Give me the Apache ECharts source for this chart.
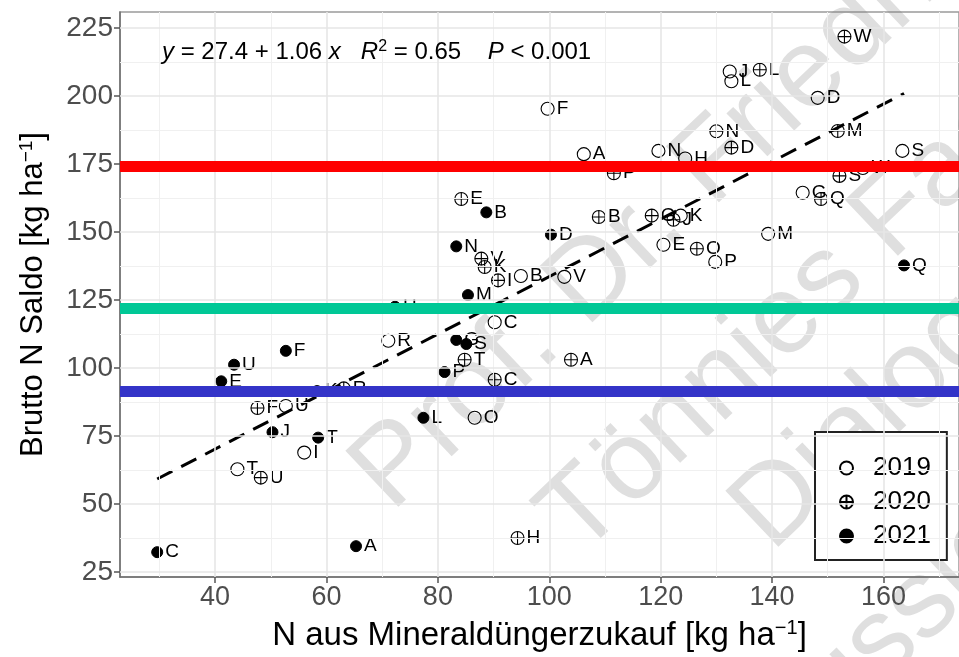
<!DOCTYPE html>
<html>
<head>
<meta charset="utf-8">
<script src="https://cdn.jsdelivr.net/npm/echarts@6/dist/echarts.min.js"></script>
<style>
html,body{margin:0;padding:0;background:#fff;}
#chart{width:959px;height:657px;}
</style>
</head>
<body>
<div id="chart"></div>
<script>
// ---- data ----
const years = ['2019', '2020', '2021'];
// [N aus Mineraldüngerzukauf, Brutto N Saldo, Betrieb]
const data2019 = [
  [99.7, 195.3, 'F'], [106.2, 178.6, 'A'], [119.6, 179.8, 'N'], [124.4, 177.0, 'H'],
  [132.4, 209.0, 'J'], [132.7, 205.4, 'L'], [148.2, 199.3, 'D'], [163.4, 179.8, 'S'],
  [156.3, 173.5, 'W'], [145.5, 164.4, 'G'], [120.5, 145.3, 'E'], [129.8, 139.0, 'P'],
  [139.3, 149.3, 'M'], [123.6, 156.0, 'K'], [94.9, 133.8, 'B'], [102.7, 133.5, 'V'],
  [90.2, 116.8, 'C'], [71.1, 110.0, 'R'], [52.7, 86.0, 'U'], [56.0, 68.9, 'I'],
  [44.0, 62.8, 'T'], [86.6, 81.7, 'O']
];
const data2020 = [
  [153.0, 221.8, 'W'], [137.8, 209.6, 'L'], [130.0, 187.0, 'N'], [132.7, 181.0, 'D'],
  [151.8, 187.1, 'M'], [152.1, 170.6, 'S'], [148.8, 162.1, 'Q'], [111.6, 171.6, 'P'],
  [84.2, 162.1, 'E'], [108.9, 155.5, 'B'], [118.4, 156.0, 'G'], [122.3, 154.5, 'J'],
  [126.5, 143.8, 'O'], [87.8, 140.2, 'V'], [88.4, 137.1, 'K'], [90.8, 132.2, 'I'],
  [84.8, 103.0, 'T'], [103.9, 103.0, 'A'], [90.2, 95.7, 'C'], [47.6, 85.3, 'F'],
  [48.2, 59.7, 'U'], [94.3, 37.5, 'H'], [63.1, 92.5, 'R']
];
const data2021 = [
  [88.7, 157.2, 'B'], [100.3, 149.0, 'D'], [83.3, 144.7, 'N'], [85.4, 126.8, 'M'],
  [72.3, 122.5, 'H'], [163.7, 137.7, 'Q'], [83.3, 110.3, 'G'], [85.1, 108.8, 'S'],
  [81.2, 98.5, 'P'], [52.7, 106.3, 'F'], [43.4, 101.2, 'U'], [41.1, 95.1, 'E'],
  [77.4, 81.7, 'L'], [50.3, 76.4, 'J'], [58.5, 74.4, 'T'], [58.3, 91.5, 'K'],
  [29.6, 32.3, 'C'], [65.3, 34.5, 'A']
];
// regression line end points
const fitX = [29.6, 163.7];
const fitY = [59.2, 200.9];
// horizontal reference lines
const refLevels = [174.0, 121.9, 91.4];
const refColors = ['#ff0000', '#00c896', '#3434c8'];
// axis ticks
const ticksX = [40, 60, 80, 100, 120, 140, 160];
const ticksY = [25, 50, 75, 100, 125, 150, 175, 200, 225];
const minorX = [30, 50, 70, 90, 110, 130, 150, 170];
const minorY = [37.5, 62.5, 87.5, 112.5, 137.5, 162.5, 187.5, 212.5];

// ---- chart ----
const FONT = '"Liberation Sans", Arial, Helvetica, sans-serif';
const plusCircle = 'path://M0,10 A10,10 0 1,1 20,10 A10,10 0 1,1 0,10 Z M0,10 L20,10 M10,0 L10,20';
const WM = 'rgba(120,120,120,0.24)';
const WMROT = 0.76;

const chart = echarts.init(document.getElementById('chart'), null, {renderer: 'canvas'});

const labelCfg = {
  show: true, position: 'right', distance: 2,
  formatter: p => p.value[2], fontSize: 19, color: '#000', fontFamily: FONT
};

function wm(text, x, y) {
  return {type: 'text', x: x, y: y, rotation: WMROT,
    style: {text: text, font: '112px ' + FONT, fill: WM}};
}

const option = {
  animation: false,
  textStyle: {fontFamily: FONT},
  grid: {left: 120, top: 12, right: -5, bottom: 77, show: true, borderColor: '#9a9a9a', borderWidth: 1.5, backgroundColor: '#fff'},
  xAxis: {
    type: 'value', min: 22.92, max: 173.57,
    name: 'N aus Mineraldüngerzukauf [kg ha{sup|−1}]',
    nameLocation: 'middle', nameGap: 41,
    nameTextStyle: {fontSize: 33, color: '#000', fontFamily: FONT,
      rich: {sup: {fontSize: 20, verticalAlign: 'top', padding: [0, 0, 15, 0]}}},
    axisLine: {show: true, lineStyle: {color: '#6e6e6e', width: 1.5}},
    axisTick: {show: true, customValues: ticksX, length: 6, lineStyle: {color: '#555', width: 1.5}},
    axisLabel: {customValues: ticksX, fontSize: 27, color: '#4d4d4d', margin: 7},
    splitLine: {show: false}
  },
  yAxis: {
    type: 'value', min: 23.17, max: 230.85,
    name: 'Brutto N Saldo [kg ha{sup|−1}]',
    nameLocation: 'middle', nameGap: 70,
    nameTextStyle: {fontSize: 31, color: '#000', fontFamily: FONT,
      rich: {sup: {fontSize: 19, verticalAlign: 'top', padding: [0, 0, 14, 0]}}},
    axisLine: {show: true, lineStyle: {color: '#6e6e6e', width: 1.5}},
    axisTick: {show: true, customValues: ticksY, length: 6, lineStyle: {color: '#555', width: 1.5}},
    axisLabel: {customValues: ticksY, fontSize: 28, color: '#4d4d4d', margin: 7},
    splitLine: {show: false}
  },
  legend: {
    data: years,
    orient: 'vertical', left: 815, top: 432,
    padding: [23, 16, 11, 24], itemGap: 8,
    itemWidth: 13, itemHeight: 13,
    borderColor: '#222', borderWidth: 2, backgroundColor: '#fff',
    formatter: name => '{t|' + name + '}',
    textStyle: {fontSize: 26, color: '#000', fontFamily: FONT,
      rich: {t: {fontSize: 26, color: '#000', fontFamily: FONT, padding: [0, 0, 0, 15]}}}
  },
  graphic: [
    {
      type: 'text', left: 162, top: 39, z: 50,
      style: {
        text: '{i|y} = 27.4 + 1.06 {i|x}   {i|R}{sup|2} = 0.65    {i|P} < 0.001',
        font: '24px ' + FONT, fill: '#000',
        rich: {
          i: {fontStyle: 'italic', fontSize: 24, fontFamily: FONT},
          sup: {fontSize: 16, verticalAlign: 'top', padding: [0, 0, 10, 0], fontFamily: FONT}
        }
      }
    },
    {
      type: 'group', z: 100, silent: true,
      children: [
        wm('Prof. Dr. Friedhelm', 332, 450),
        wm('Tönnies Fachberatung', 520, 495),
        wm('Dialog', 712, 490),
        wm('Diskussion', 620, 815)
      ]
    }
  ],
  series: [
    {
      name: '_grid', type: 'line', data: [], silent: true, z: 0,
      markLine: {
        silent: true, symbol: 'none', label: {show: false}, animation: false,
        data: [].concat(
          minorX.map(v => ({xAxis: v, lineStyle: {color: '#f0f0f0', width: 1, type: 'solid'}})),
          minorY.map(v => ({yAxis: v, lineStyle: {color: '#f0f0f0', width: 1, type: 'solid'}})),
          ticksX.map(v => ({xAxis: v, lineStyle: {color: '#e6e6e6', width: 1.6, type: 'solid'}})),
          ticksY.map(v => ({yAxis: v, lineStyle: {color: '#e6e6e6', width: 1.6, type: 'solid'}}))
        )
      }
    },
    {
      name: '2019', type: 'scatter', data: data2019, z: 3,
      symbol: 'circle', symbolSize: 13,
      itemStyle: {color: 'rgba(255,255,255,0)', borderColor: '#000', borderWidth: 1.1, opacity: 1},
      label: labelCfg
    },
    {
      name: '2020', type: 'scatter', data: data2020, z: 3,
      symbol: plusCircle, symbolSize: 13, symbolKeepAspect: true,
      itemStyle: {color: 'rgba(255,255,255,0)', borderColor: '#000', borderWidth: 1.1, opacity: 1},
      label: labelCfg
    },
    {
      name: '2021', type: 'scatter', data: data2021, z: 3,
      symbol: 'circle', symbolSize: 11,
      itemStyle: {color: '#000', borderColor: '#000', borderWidth: 1, opacity: 1},
      label: labelCfg
    },
    {
      name: '_fit', type: 'line', z: 4, silent: true,
      data: fitX.map((x, i) => [x, fitY[i]]),
      symbol: 'none',
      lineStyle: {color: '#000', width: 3, type: [17, 10]}
    },
    {
      name: '_ref', type: 'line', data: [], z: 5, silent: true,
      markLine: {
        silent: true, symbol: 'none', label: {show: false}, animation: false,
        data: refLevels.map((v, i) => ({yAxis: v, lineStyle: {color: refColors[i], width: 11, type: 'solid'}}))
      }
    }
  ]
};
chart.setOption(option);
</script>
</body>
</html>
